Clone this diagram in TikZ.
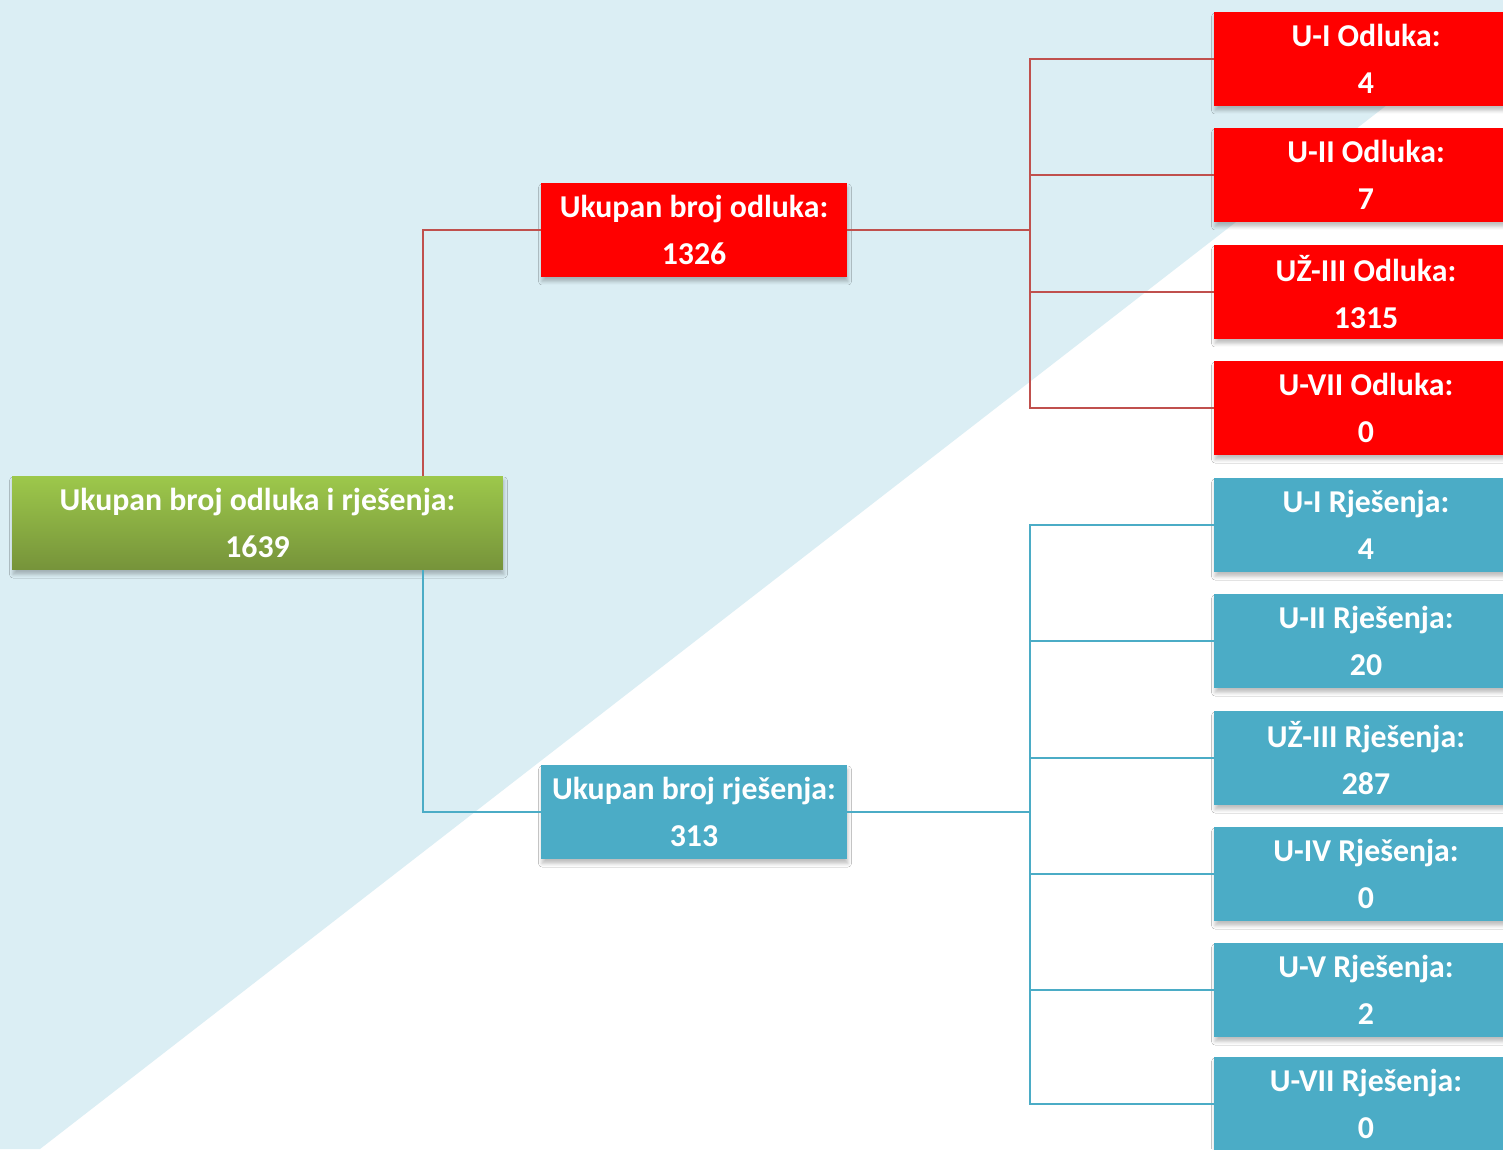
\documentclass[tikz,border=0pt]{standalone}
\usepackage{fontspec}
\setmainfont{Carlito}
\usetikzlibrary{shadows.blur}
\definecolor{bgblue}{HTML}{DBEEF4}
\definecolor{boxred}{HTML}{FF0000}
\definecolor{boxblue}{HTML}{4BACC6}
\definecolor{linered}{HTML}{C0504D}
\definecolor{greentop}{HTML}{9DC84B}
\definecolor{greenbot}{HTML}{76933A}
\tikzset{
  box/.style={minimum height=1.88cm, inner sep=0pt, align=center, text=white,
    font=\fontsize{18.1pt}{27pt}\selectfont\bfseries,
    blur shadow={shadow xshift=0.02cm, shadow yshift=-0.09cm, shadow blur radius=0.07cm,
      shadow blur steps=6, shadow opacity=25}},
  rootbox/.style={box, minimum width=9.82cm, top color=greentop, bottom color=greenbot},
  midbox/.style={box, minimum width=6.12cm},
  leafbox/.style={box, minimum width=6.08cm},
  odl/.style={fill=boxred},
  rje/.style={fill=boxblue},
  redline/.style={draw=linered, line width=1.1pt},
  blueline/.style={draw=boxblue, line width=1.1pt}
}
\begin{document}
\begin{tikzpicture}[x=0.02cm, y=-0.02cm]
	\clip (0,0) rectangle (1503,1149);
	\fill[white] (0,0) rectangle (1503,1149);
	\fill[bgblue] (0,0) -- (1503,0) -- (1503,15) -- (40,1149) -- (0,1149) -- cycle;

	\node[rootbox] (root) at (257.5,523) {Ukupan broj odluka i rješenja:\\1639};
	\node[midbox, odl] (odluke) at (694,230) {Ukupan broj odluka:\\1326};
	\node[midbox, rje] (rjesenja) at (694,812) {Ukupan broj rješenja:\\313};

	\node[leafbox, odl] (o1) at (1366,59) {U-I Odluka:\\4};
	\node[leafbox, odl] (o2) at (1366,175) {U-II Odluka:\\7};
	\node[leafbox, odl] (o3) at (1366,292) {UŽ-III Odluka:\\1315};
	\node[leafbox, odl] (o4) at (1366,408) {U-VII Odluka:\\0};

	\node[leafbox, rje] (r1) at (1366,525) {U-I Rješenja:\\4};
	\node[leafbox, rje] (r2) at (1366,641) {U-II Rješenja:\\20};
	\node[leafbox, rje] (r3) at (1366,758) {UŽ-III Rješenja:\\287};
	\node[leafbox, rje] (r4) at (1366,874) {U-IV Rješenja:\\0};
	\node[leafbox, rje] (r5) at (1366,990) {U-V Rješenja:\\2};
	\node[leafbox, rje] (r6) at (1366,1104) {U-VII Rješenja:\\0};

	\coordinate (spine) at (423,0);
	\coordinate (redbus) at (1030,230);
	\coordinate (bluebus) at (1030,812);

	\draw[redline] (spine |- root.north) |- (odluke.west);
	\draw[blueline] (spine |- root.south) |- (rjesenja.west);

	\foreach \leaf in {o1,o2,o3,o4}
		\draw[redline] (odluke.east) -- (redbus) |- (\leaf.west);
	\foreach \leaf in {r1,r2,r3,r4,r5,r6}
		\draw[blueline] (rjesenja.east) -- (bluebus) |- (\leaf.west);
\end{tikzpicture}
\end{document}
